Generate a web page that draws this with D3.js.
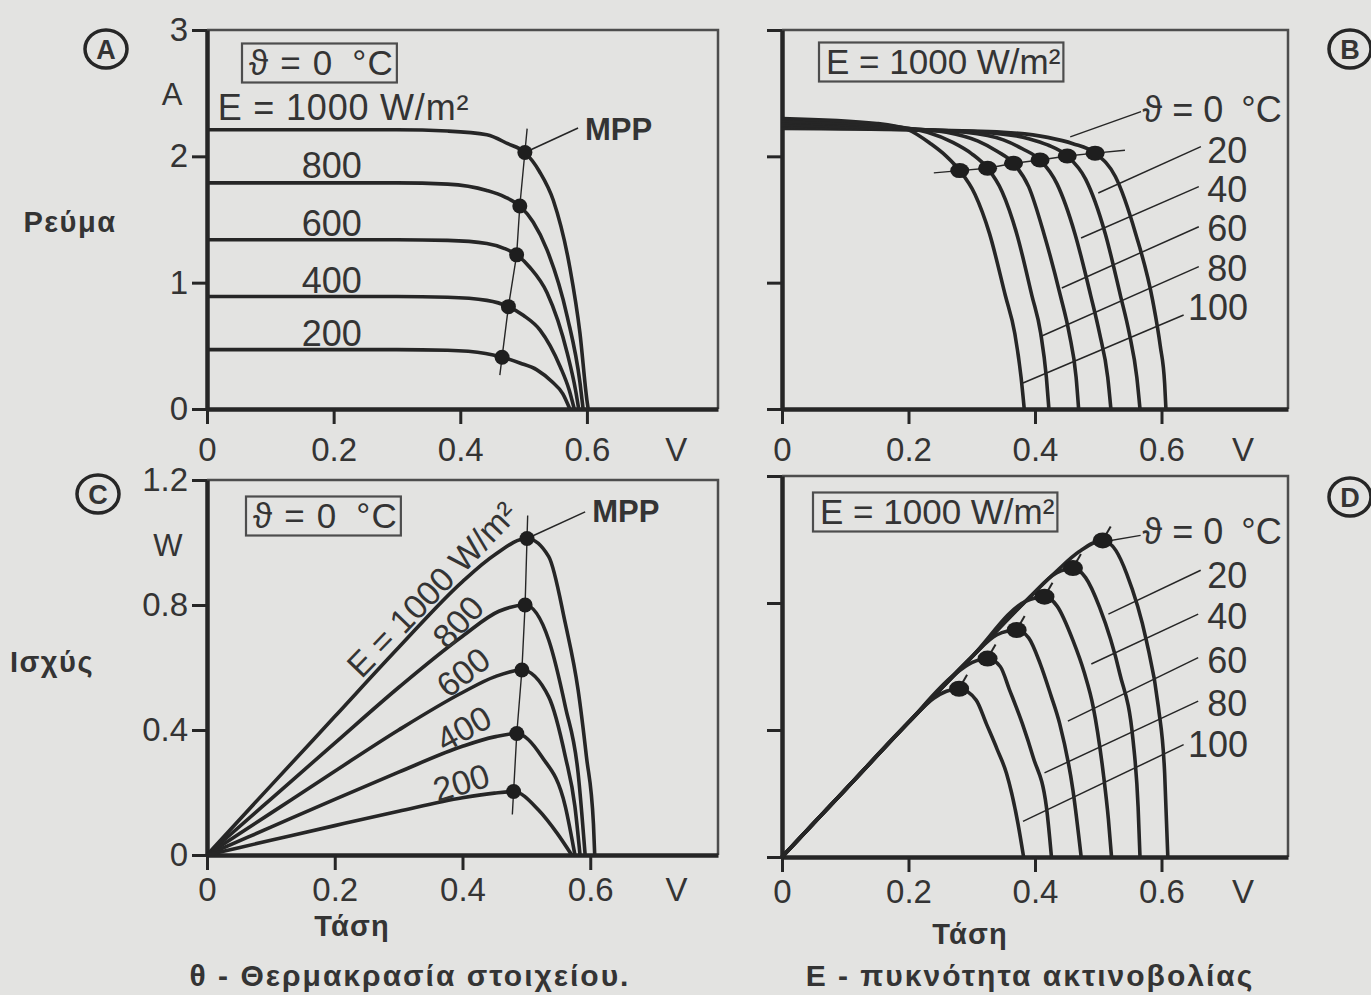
<!DOCTYPE html>
<html>
<head>
<meta charset="utf-8">
<title>PV cell I-V and P-V curves</title>
<script src="https://cdn.jsdelivr.net/npm/d3@7"></script>
<style>
  body { margin: 0; background: #e3e3e1; }
  svg { display: block; }
</style>
</head>
<body>
<script>
// values (V in volts, I in A, P in W)
var voltTicks = [0, 0.2, 0.4, 0.6];
var currentTicks = [0, 1, 2, 3];
var powerTicks = [0, 0.4, 0.8, 1.2];
var irradiance = [1000, 800, 600, 400, 200];   // W/m2
var temperature = [0, 20, 40, 60, 80, 100];    // degC

// A - current, theta = 0 C, one curve per irradiance
var ivE1000 = [[0,2.21],[0.3,2.21],[0.38,2.2],[0.442,2.17],[0.475,2.1],[0.502,2.03],[0.525,1.88],[0.547,1.65],[0.573,1.12],[0.589,0.6],[0.6,0.07],[0.602,0]];
var ivE800  = [[0,1.79],[0.3,1.79],[0.38,1.78],[0.442,1.73],[0.47,1.68],[0.494,1.607],[0.515,1.48],[0.537,1.26],[0.569,0.73],[0.589,0.21],[0.594,0]];
var ivE600  = [[0,1.34],[0.3,1.34],[0.38,1.335],[0.442,1.31],[0.47,1.27],[0.489,1.22],[0.51,1.12],[0.537,0.92],[0.569,0.44],[0.582,0.15],[0.587,0]];
var ivE400  = [[0,0.89],[0.3,0.89],[0.38,0.885],[0.442,0.86],[0.476,0.81],[0.5,0.74],[0.526,0.625],[0.558,0.333],[0.572,0.15],[0.58,0]];
var ivE200  = [[0,0.47],[0.3,0.47],[0.38,0.465],[0.44,0.44],[0.466,0.41],[0.494,0.364],[0.521,0.31],[0.545,0.215],[0.562,0.12],[0.573,0]];
var mppIvE  = [[0.502,2.03],[0.494,1.607],[0.489,1.22],[0.476,0.81],[0.466,0.41]];

// B - current, E = 1000 W/m2, one curve per temperature
var ivT0   = [[0,2.22],[0.2,2.21],[0.35,2.19],[0.42,2.15],[0.46,2.1],[0.495,2.025],[0.527,1.84],[0.559,1.39],[0.586,0.86],[0.598,0.5],[0.605,0.2],[0.607,0]];
var ivT20  = [[0,2.24],[0.2,2.21],[0.32,2.19],[0.39,2.14],[0.42,2.09],[0.451,2.003],[0.48,1.82],[0.511,1.39],[0.535,0.9],[0.549,0.6],[0.561,0.25],[0.566,0]];
var ivT40  = [[0,2.25],[0.2,2.215],[0.29,2.19],[0.35,2.13],[0.38,2.06],[0.408,1.971],[0.435,1.78],[0.463,1.39],[0.488,0.9],[0.502,0.6],[0.515,0.25],[0.52,0]];
var ivT60  = [[0,2.27],[0.2,2.22],[0.26,2.19],[0.31,2.12],[0.34,2.04],[0.366,1.945],[0.39,1.76],[0.414,1.39],[0.44,0.9],[0.454,0.6],[0.465,0.25],[0.469,0]];
var ivT80  = [[0,2.28],[0.17,2.24],[0.23,2.19],[0.27,2.11],[0.3,2.02],[0.325,1.906],[0.348,1.72],[0.371,1.39],[0.395,0.9],[0.409,0.6],[0.418,0.25],[0.422,0]];
var ivT100 = [[0,2.3],[0.15,2.26],[0.2,2.21],[0.235,2.1],[0.26,2.0],[0.281,1.887],[0.305,1.7],[0.328,1.39],[0.353,0.9],[0.368,0.6],[0.378,0.25],[0.383,0]];
var mppIvT = [[0.495,2.025],[0.451,2.003],[0.408,1.971],[0.366,1.945],[0.325,1.906],[0.281,1.887]];

// C - power, theta = 0 C
var pvE1000 = [[0,0],[0.1,0.222],[0.2,0.443],[0.3,0.664],[0.4,0.875],[0.45,0.96],[0.501,1.013],[0.535,0.955],[0.561,0.741],[0.581,0.528],[0.594,0.315],[0.605,0.1],[0.607,0]];
var pvE800  = [[0,0],[0.1,0.179],[0.2,0.358],[0.3,0.536],[0.4,0.7],[0.457,0.78],[0.498,0.8],[0.535,0.688],[0.561,0.475],[0.581,0.262],[0.592,0]];
var pvE600  = [[0,0],[0.1,0.134],[0.2,0.268],[0.3,0.4],[0.4,0.52],[0.45,0.57],[0.493,0.592],[0.535,0.506],[0.561,0.315],[0.576,0.155],[0.584,0]];
var pvE400  = [[0,0],[0.1,0.089],[0.2,0.178],[0.3,0.265],[0.4,0.348],[0.45,0.378],[0.485,0.389],[0.524,0.315],[0.561,0.155],[0.576,0]];
var pvE200  = [[0,0],[0.1,0.047],[0.2,0.094],[0.3,0.14],[0.4,0.183],[0.45,0.198],[0.48,0.203],[0.519,0.144],[0.548,0.07],[0.571,0]];
var mppPvE  = [[0.501,1.013],[0.498,0.8],[0.493,0.592],[0.485,0.389],[0.48,0.203]];

// D - power, E = 1000 W/m2
var pvT0   = [[0,0],[0.1,0.212],[0.2,0.424],[0.3,0.63],[0.39,0.815],[0.434,0.9],[0.47,0.962],[0.507,0.997],[0.528,0.965],[0.545,0.892],[0.576,0.682],[0.595,0.473],[0.605,0.263],[0.61,0]];
var pvT20  = [[0,0],[0.1,0.212],[0.2,0.424],[0.3,0.63],[0.39,0.815],[0.434,0.895],[0.46,0.91],[0.48,0.88],[0.502,0.787],[0.534,0.578],[0.555,0.368],[0.563,0.158],[0.566,0]];
var pvT40  = [[0,0],[0.1,0.212],[0.2,0.424],[0.3,0.63],[0.385,0.805],[0.415,0.82],[0.435,0.79],[0.46,0.682],[0.478,0.58],[0.492,0.473],[0.508,0.263],[0.516,0.12],[0.521,0]];
var pvT60  = [[0,0],[0.1,0.212],[0.2,0.424],[0.3,0.63],[0.34,0.7],[0.371,0.715],[0.39,0.69],[0.408,0.61],[0.425,0.51],[0.439,0.42],[0.46,0.21],[0.473,0]];
var pvT80  = [[0,0],[0.1,0.212],[0.2,0.424],[0.27,0.57],[0.3,0.612],[0.325,0.625],[0.345,0.6],[0.36,0.525],[0.38,0.42],[0.397,0.315],[0.418,0.158],[0.426,0]];
var pvT100 = [[0,0],[0.1,0.212],[0.2,0.424],[0.24,0.5],[0.26,0.522],[0.28,0.53],[0.307,0.494],[0.323,0.42],[0.34,0.34],[0.355,0.263],[0.373,0.106],[0.382,0]];
var mppPvT = [[0.507,0.997],[0.46,0.91],[0.415,0.82],[0.371,0.715],[0.325,0.625],[0.28,0.53]];

// annotation anchors, in data units of each panel
var irrLabelsA = [[0.017,2.383],[0.197,1.93],[0.197,1.47],[0.197,1.02],[0.197,0.594]];
var irrLabelsC = [[0.352,0.85,-46],[0.393,0.746,-47],[0.401,0.585,-38],[0.402,0.405,-29],[0.398,0.232,-17]];
var tempLabelsB = [[0.57,2.367],[0.6725,2.05],[0.6725,1.734],[0.6725,1.425],[0.6725,1.116],[0.642,0.8]];
var tempLabelsD = [[0.57,1.024],[0.6725,0.888],[0.6725,0.756],[0.6725,0.62],[0.6725,0.485],[0.642,0.353]];
var leadersB = [[[0.5676,2.354],[0.4557,2.154]],[[0.6623,2.077],[0.5,1.71]],[[0.659,1.76],[0.4728,1.354]],[[0.659,1.443],[0.4424,0.958]],[[0.659,1.127],[0.408,0.572]],[[0.635,0.744],[0.381,0.206]]];
var leadersD = [[[0.567,1.013],[0.506,0.992]],[[0.662,0.903],[0.516,0.765]],[[0.658,0.765],[0.489,0.608]],[[0.658,0.628],[0.452,0.428]],[[0.658,0.491],[0.415,0.265]],[[0.635,0.354],[0.381,0.112]]];

var ink = '#262626', txt = '#343434';
var FONT = '"Liberation Sans", Arial, Helvetica, sans-serif';
var THETA = '\u03d1 = 0\u2002\u00b0C';

var svg = d3.select('body').append('svg')
  .attr('width', 1371).attr('height', 995)
  .attr('font-family', FONT);

svg.append('rect').attr('width', 1371).attr('height', 995).attr('fill', '#e3e3e1');

var fmtV = function(d){ return d === 0 ? '0' : d3.format('.1f')(d); };
var fmtI = d3.format('d');

function panel(o) {
  var x = d3.scaleLinear().domain([0, o.xMax]).range([o.left, o.right]);
  var y = d3.scaleLinear().domain([0, o.yMax]).range([o.bottom, o.top]);
  var g = svg.append('g');

  g.append('path')
    .attr('d', 'M' + o.left + ',' + o.top + 'H' + o.right + 'V' + o.bottom)
    .attr('fill', 'none').attr('stroke', '#4d4d4d').attr('stroke-width', 2.5);

  var xa = g.append('g').attr('transform', 'translate(0,' + o.bottom + ')')
    .call(d3.axisBottom(x).tickValues(voltTicks).tickSize(15).tickSizeOuter(0)
      .tickPadding(o.xPad).tickFormat(fmtV));
  var ya = g.append('g').attr('transform', 'translate(' + o.left + ',0)')
    .call(d3.axisLeft(y).tickValues(o.yTicks).tickSize(15).tickSizeOuter(0)
      .tickPadding(4).tickFormat(o.yFormat || function(){ return ''; }));
  [xa, ya].forEach(function(a){
    a.attr('font-size', 33).attr('font-family', null).attr('color', ink);
    a.select('.domain').attr('stroke-width', 4.5);
    a.selectAll('.tick line').attr('stroke-width', 3);
    a.selectAll('.tick text').attr('fill', txt);
  });

  // unit "V" on the tick label row
  g.append('text').attr('x', x(o.vUnit)).attr('y', o.bottom + 15 + o.xPad)
    .attr('dy', '0.71em').attr('text-anchor', 'middle')
    .attr('font-size', 33).attr('fill', txt).text('V');

  var line = d3.line().x(function(d){ return x(d[0]); })
    .y(function(d){ return y(d[1]); }).curve(d3.curveMonotoneX);

  o.series.forEach(function(s){
    g.append('path').datum(s).attr('d', line)
      .attr('fill', 'none').attr('stroke', ink).attr('stroke-width', 3.6)
      .attr('stroke-linejoin', 'round');
  });
  return { x: x, y: y, g: g };
}

function thin(g, p1, p2, w) {
  g.append('line').attr('x1', p1[0]).attr('y1', p1[1]).attr('x2', p2[0]).attr('y2', p2[1])
    .attr('stroke', ink).attr('stroke-width', w || 1.6);
}

// line through the MPP points, stretched a little past both ends
function mppLocus(p, pts, extA, extB) {
  var px = pts.map(function(d){ return [p.x(d[0]), p.y(d[1])]; });
  function ext(a, b, len) {
    var dx = a[0] - b[0], dy = a[1] - b[1], l = Math.sqrt(dx * dx + dy * dy);
    return [a[0] + dx / l * len, a[1] + dy / l * len];
  }
  var n = px.length;
  var all = [ext(px[0], px[1], extA)].concat(px, [ext(px[n - 1], px[n - 2], extB)]);
  p.g.append('path').attr('d', d3.line()(all)).attr('fill', 'none')
    .attr('stroke', ink).attr('stroke-width', 1.4);
}

function dots(p, pts, rx, ry) {
  p.g.selectAll(null).data(pts).enter().append('ellipse')
    .attr('cx', function(d){ return p.x(d[0]); })
    .attr('cy', function(d){ return p.y(d[1]); })
    .attr('rx', rx).attr('ry', ry).attr('fill', '#1e1e1e');
}

function label(g, xp, yp, s, size, anchor, weight, spacing) {
  return g.append('text').attr('x', xp).attr('y', yp)
    .attr('dominant-baseline', 'central').attr('text-anchor', anchor || 'start')
    .attr('font-size', size).attr('font-weight', weight || 'normal')
    .attr('letter-spacing', spacing || 0)
    .attr('fill', txt).text(s);
}

function boxed(g, xp, yp, s, spacing) {
  var t = label(g, xp, yp, s, 35, 'start', 'normal', spacing);
  var b = t.node().getBBox();
  g.insert('rect', function(){ return t.node(); })
    .attr('x', b.x - 7).attr('y', b.y + 1)
    .attr('width', b.width + 10).attr('height', b.height)
    .attr('fill', 'none').attr('stroke', '#4d4d4d').attr('stroke-width', 2.2);
}

function circled(cx, cy, s) {
  svg.append('ellipse').attr('cx', cx).attr('cy', cy).attr('rx', 21).attr('ry', 19)
    .attr('fill', 'none').attr('stroke', ink).attr('stroke-width', 3.5);
  label(svg, cx, cy + 1, s, 27, 'middle', 'bold');
}

// ---------- panel A ----------
var A = panel({ left: 207, right: 718, top: 30, bottom: 409, xMax: 0.807, yMax: 3,
  yTicks: currentTicks, yFormat: fmtI, xPad: 14, vUnit: 0.741,
  series: [ivE1000, ivE800, ivE600, ivE400, ivE200] });
mppLocus(A, mppIvE, 24, 18);
thin(A.g, [A.x(0.586), A.y(2.225)], [A.x(0.502), A.y(2.03)]);
dots(A, mppIvE, 7.5, 7.5);
label(A.g, A.x(0.597), A.y(2.209), 'MPP', 31, 'start', 'bold');
irradiance.forEach(function(e, i){
  var s = i === 0 ? 'E = ' + e + ' W/m\u00b2' : String(e);
  label(A.g, A.x(irrLabelsA[i][0]), A.y(irrLabelsA[i][1]), s, 36,
    i === 0 ? 'start' : 'middle', 'normal', i === 0 ? 0.8 : 0);
});
boxed(A.g, 249, 62, THETA, 1.2);
label(A.g, 172, A.y(2.486), 'A', 31, 'middle');
label(A.g, 70, A.y(1.48), 'Ρεύμα', 29, 'middle', 'bold', 1.5);
circled(106, 49, 'A');

// ---------- panel B ----------
var B = panel({ left: 782, right: 1288, top: 30, bottom: 409, xMax: 0.8, yMax: 3,
  yTicks: currentTicks, xPad: 14, vUnit: 0.729,
  series: [ivT0, ivT20, ivT40, ivT60, ivT80, ivT100] });
mppLocus(B, mppIvT, 30, 26);
leadersB.forEach(function(l){ thin(B.g, [B.x(l[0][0]), B.y(l[0][1])], [B.x(l[1][0]), B.y(l[1][1])], 1.5); });
dots(B, mppIvT, 9.5, 7.5);
temperature.forEach(function(t, i){
  label(B.g, B.x(tempLabelsB[i][0]), B.y(tempLabelsB[i][1]), i === 0 ? THETA : String(t), 36, 'start');
});
boxed(B.g, 826, 61, 'E = 1000 W/m\u00b2');
circled(1350, 49, 'B');

// ---------- panel C ----------
var C = panel({ left: 207, right: 718, top: 480, bottom: 855, xMax: 0.8, yMax: 1.2,
  yTicks: powerTicks, yFormat: fmtV, xPad: 8, vUnit: 0.735,
  series: [pvE1000, pvE800, pvE600, pvE400, pvE200] });
mppLocus(C, mppPvE, 23, 23);
thin(C.g, [C.x(0.592), C.y(1.098)], [C.x(0.501), C.y(1.013)]);
dots(C, mppPvE, 7.5, 7.5);
label(C.g, C.x(0.603), C.y(1.1), 'MPP', 31, 'start', 'bold');
irradiance.forEach(function(e, i){
  var s = i === 0 ? 'E = ' + e + ' W/m\u00b2' : String(e);
  var a = irrLabelsC[i];
  C.g.append('text')
    .attr('transform', 'translate(' + C.x(a[0]) + ',' + C.y(a[1]) + ') rotate(' + a[2] + ')')
    .attr('text-anchor', 'middle').attr('dominant-baseline', 'central')
    .attr('font-size', 34).attr('fill', txt).text(s);
});
boxed(C.g, 253, 515, THETA, 1.2);
label(C.g, 168, C.y(0.99), 'W', 31, 'middle');
label(C.g, 52, C.y(0.618), 'Ισχύς', 29, 'middle', 'bold', 1.5);
label(C.g, 352, 926, 'Τάση', 29, 'middle', 'bold', 1.2);
label(svg, 410, 975, 'θ - Θερμακρασία στοιχείου.', 30, 'middle', 'bold', 2);
circled(98, 494, 'C');

// ---------- panel D ----------
var D = panel({ left: 782, right: 1288, top: 476, bottom: 857, xMax: 0.8, yMax: 1.2,
  yTicks: powerTicks, xPad: 8, vUnit: 0.729,
  series: [pvT0, pvT20, pvT40, pvT60, pvT80, pvT100] });
leadersD.forEach(function(l){ thin(D.g, [D.x(l[0][0]), D.y(l[0][1])], [D.x(l[1][0]), D.y(l[1][1])], 1.5); });
mppPvT.forEach(function(d){
  var cx = D.x(d[0]), cy = D.y(d[1]);
  thin(D.g, [cx - 3, cy + 5], [cx + 8, cy - 14], 2);
});
dots(D, mppPvT, 10, 8);
temperature.forEach(function(t, i){
  label(D.g, D.x(tempLabelsD[i][0]), D.y(tempLabelsD[i][1]), i === 0 ? THETA : String(t), 36, 'start');
});
boxed(D.g, 820, 511, 'E = 1000 W/m\u00b2');
label(D.g, 970, 934, 'Τάση', 29, 'middle', 'bold', 1.2);
label(svg, 1030, 975, 'E - πυκνότητα ακτινοβολίας', 30, 'middle', 'bold', 2);
circled(1350, 497, 'D');
</script>
</body>
</html>
